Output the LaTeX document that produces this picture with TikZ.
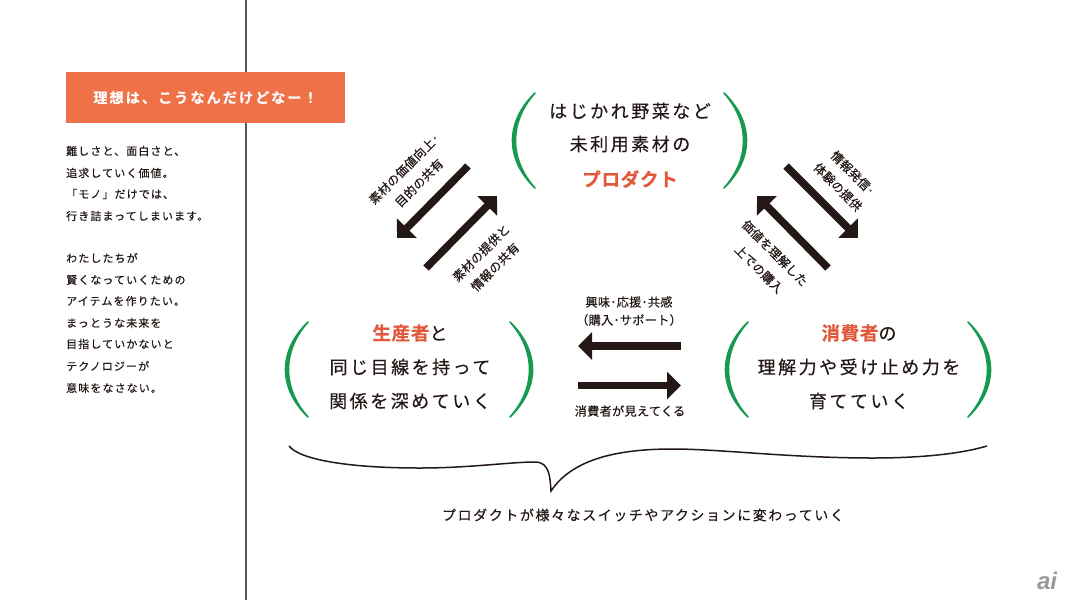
\documentclass[tikz,border=0pt]{standalone}
\usepackage{fontspec}
\usetikzlibrary{arrows.meta}
\newfontfamily\jpmain[LetterSpace=14,FakeBold=0.35]{Noto Sans CJK JP}
\newfontfamily\jpheavy[LetterSpace=4,FakeBold=0.5]{Noto Sans CJK JP Bold}
\newfontfamily\jpbody[LetterSpace=10,FakeBold=0.3]{Noto Sans CJK JP}
\newfontfamily\jplabel[LetterSpace=2,FakeBold=0.3]{Noto Sans CJK JP}
\newfontfamily\jpfoot[LetterSpace=12,FakeBold=0.3]{Noto Sans CJK JP}
\newfontfamily\jphead[LetterSpace=14,FakeBold=0.3]{Noto Sans CJK JP Bold}
\newfontfamily\logofont{Liberation Sans}
\definecolor{ink}{HTML}{231815}
\definecolor{orangebar}{HTML}{EE7148}
\definecolor{orangetxt}{HTML}{E2583A}
\definecolor{paren}{HTML}{179A4F}
\definecolor{rule}{HTML}{555555}
\tikzset{
  bigtext/.style={inner sep=0pt,text=ink,font=\jpmain\fontsize{18}{18}\selectfont},
  bodytext/.style={inner sep=0pt,anchor=west,text=ink,font=\jpbody\fontsize{11}{11}\selectfont},
  smalllabel/.style={inner sep=0pt,text=ink,font=\jplabel\fontsize{12.2}{12.2}\selectfont},
  flow/.style={draw=ink,line width=7.5pt,-{Triangle[length=14pt,width=27pt]}},
  parenpic/.pic={\filldraw[fill=paren,draw=paren,line width=1.6pt,line join=round]
    (0,0) .. controls (-30,29) and (-30,66) .. (0,95)
          .. controls (-26,66) and (-26,29) .. (0,0) -- cycle;},
}
\newcommand{\hl}[1]{\textcolor{orangetxt}{\jpheavy\fontsize{18.5}{18.5}\selectfont #1}}
\begin{document}
\begin{tikzpicture}[x=1pt,y=-1pt]
\useasboundingbox (0,0) rectangle (1065,600);
\fill[white] (0,0) rectangle (1065,600);
% vertical rule and title bar
\draw[draw=rule,line width=2pt] (246,0) -- (246,600);
\node[fill=orangebar,minimum width=279pt,minimum height=51pt,inner sep=0pt,text=white,font=\jphead\fontsize{14.2}{14.2}\selectfont] (title) at (205.5,97.5) {理想は、こうなんだけどなー！};
% body text
\node[bodytext] (b1) at (66,151) {難しさと、面白さと、};
\node[bodytext] (b2) at (66,173) {追求していく価値。};
\node[bodytext] (b3) at (66,194) {「モノ」だけでは、};
\node[bodytext] (b4) at (66,216) {行き詰まってしまいます。};
\node[bodytext] (b5) at (66,258) {わたしたちが};
\node[bodytext] (b6) at (66,280) {賢くなっていくための};
\node[bodytext] (b7) at (66,301) {アイテムを作りたい。};
\node[bodytext] (b8) at (66,323) {まっとうな未来を};
\node[bodytext] (b9) at (66,344) {目指していかないと};
\node[bodytext] (b10) at (66,366) {テクノロジーが};
\node[bodytext] (b11) at (66,388) {意味をなさない。};
% top group
\node[bigtext] (t1) at (630,111) {はじかれ野菜など};
\node[bigtext] (t2) at (630,144) {未利用素材の};
\node[bigtext] (t3) at (630,179) {\hl{プロダクト}};
\pic at (535,93) {parenpic};
\pic[xscale=-1] at (724,93) {parenpic};
% bottom-left group
\node[bigtext] (l1) at (410,333) {\hl{生産者}と};
\node[bigtext] (l2) at (410,367) {同じ目線を持って};
\node[bigtext] (l3) at (410,401) {関係を深めていく};
\pic at (308,322) {parenpic};
\pic[xscale=-1] at (510,322) {parenpic};
% bottom-right group
\node[bigtext] (r1) at (859,333) {\hl{消費者}の};
\node[bigtext] (r2) at (859,367) {理解力や受け止め力を};
\node[bigtext] (r3) at (859,401) {育てていく};
\pic at (748,322) {parenpic};
\pic[xscale=-1] at (968,322) {parenpic};
% connectors
\coordinate (a1s) at (468,166); \coordinate (a1e) at (397,238);
\coordinate (a2s) at (426,268); \coordinate (a2e) at (497,196);
\coordinate (a3s) at (786,166); \coordinate (a3e) at (858,238);
\coordinate (a4s) at (828,268); \coordinate (a4e) at (757,196);
\coordinate (a5s) at (681,346); \coordinate (a5e) at (578,346);
\coordinate (a6s) at (578,385.5); \coordinate (a6e) at (681,385.5);
\draw[flow] (a1s) -- (a1e);
\draw[flow] (a2s) -- (a2e);
\draw[flow] (a3s) -- (a3e);
\draw[flow] (a4s) -- (a4e);
\draw[flow] (a5s) -- (a5e);
\draw[flow] (a6s) -- (a6e);
% labels
\node[smalllabel,rotate=45] (la1) at (404,169) {素材の価値向上･};
\node[smalllabel,rotate=45] (la2) at (419,183) {目的の共有};
\node[smalllabel,rotate=45] (la3) at (481,253) {素材の提供と};
\node[smalllabel,rotate=45] (la4) at (495,267) {情報の共有};
\node[smalllabel,rotate=-45] (la5) at (853,173) {情報発信･};
\node[smalllabel,rotate=-45] (la6) at (838,187) {体験の提供};
\node[smalllabel,rotate=-45] (la7) at (775,253) {価値を理解した};
\node[smalllabel,rotate=-45] (la8) at (759,269) {上での購入};
\node[smalllabel] (la9) at (629,302) {興味･応援･共感};
\node[smalllabel] (la10) at (629,320) {（購入･サポート）};
\node[smalllabel] (la11) at (630,411) {消費者が見えてくる};
% brace
\draw[draw=ink,line width=1.5pt,line join=miter]
  (289,446) .. controls (300,460) and (350,468) .. (420,468)
  .. controls (470,468) and (510,462) .. (535,462)
  .. controls (550,462) and (550,478) .. (551,491)
  .. controls (573,458) and (620,449) .. (673,449)
  .. controls (720,449) and (790,458) .. (873,458)
  .. controls (920,458) and (960,454) .. (987,446);
\node[inner sep=0pt,text=ink,font=\jpfoot\fontsize{13.9}{13.9}\selectfont] (foot) at (643,515) {プロダクトが様々なスイッチやアクションに変わっていく};
% logo
\node[inner sep=0pt,text=black!40,font=\logofont\bfseries\itshape\fontsize{24}{24}\selectfont] (logo) at (1047,581) {ai};
\end{tikzpicture}
\end{document}
